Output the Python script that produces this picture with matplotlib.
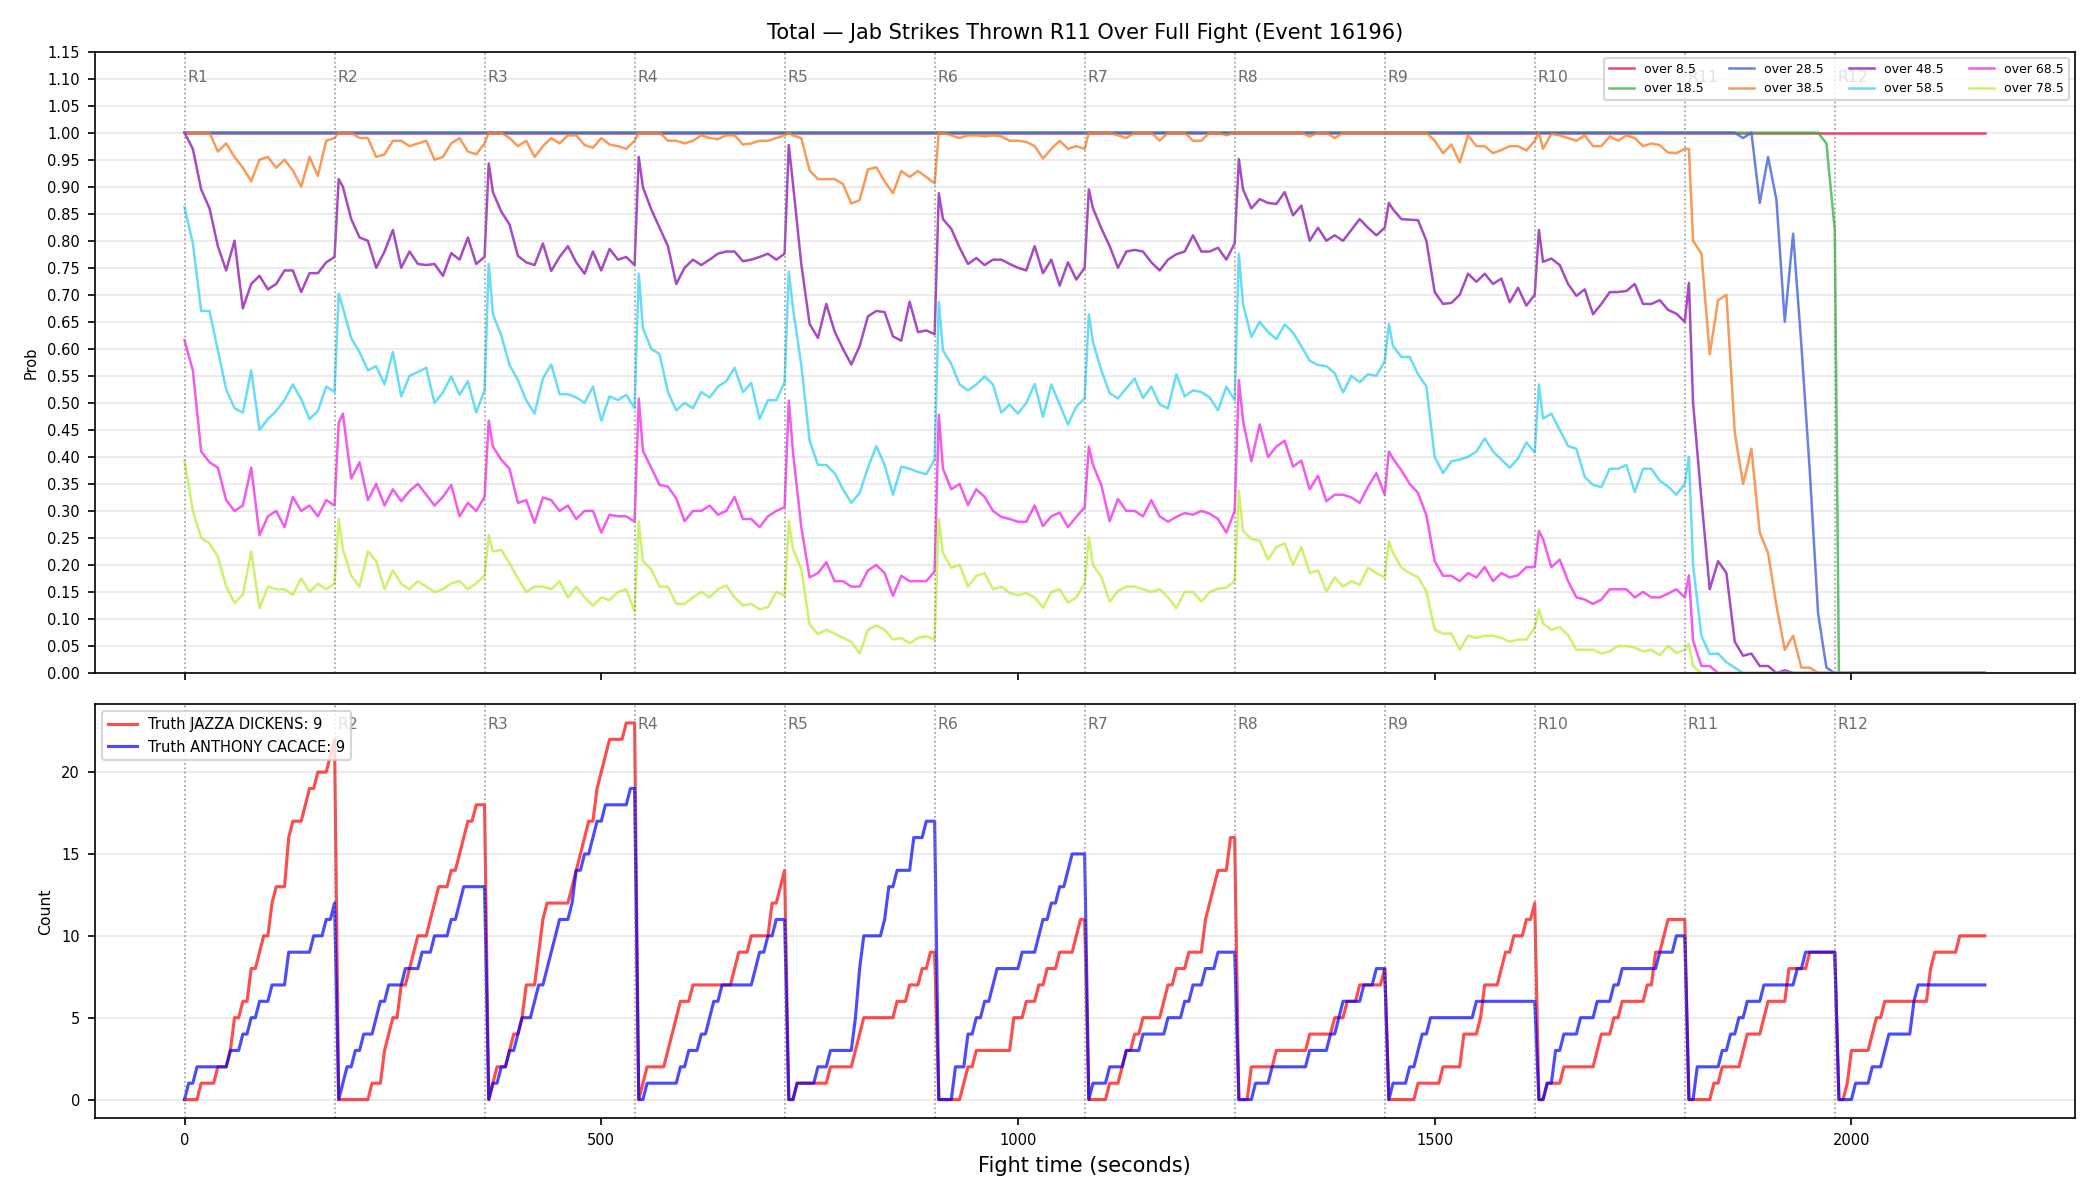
import numpy as np
import matplotlib
matplotlib.use('Agg')
import matplotlib.pyplot as plt

title = 'Total — Jab Strikes Thrown R11 Over Full Fight (Event 16196)'

round_starts = [0, 180, 360, 540, 720, 900, 1080, 1260, 1440, 1620, 1800, 1980]
round_names = ['R1', 'R2', 'R3', 'R4', 'R5', 'R6', 'R7', 'R8', 'R9', 'R10', 'R11', 'R12']

line_labels = ['over 8.5', 'over 18.5', 'over 28.5', 'over 38.5',
               'over 48.5', 'over 58.5', 'over 68.5', 'over 78.5']
line_colors = ['#e6194b', '#3cb44b', '#4363d8', '#f58231',
               '#911eb4', '#42d4f4', '#f032e6', '#bfef45']

# probabilities, one list per round, read every 10 s inside the round
over_8_5 = [[1.0] * 19] * 12

over_18_5 = [[1.0] * 19] * 10 + [
    [1.0, 1.0, 1.0, 1.0, 1.0, 1.0, 1.0, 1.0, 1.0, 1.0, 1.0, 1.0, 1.0, 1.0, 1.0, 1.0, 1.0, 0.98, 0.82],
    [0.0] * 19,
]

over_28_5 = [[1.0] * 19] * 10 + [
    [1.0, 1.0, 1.0, 1.0, 1.0, 1.0, 1.0, 0.99, 1.0, 0.87, 0.955, 0.876, 0.65, 0.813, 0.605, 0.374, 0.11, 0.01, 0.0],
    [0.0] * 19,
]

over_38_5 = [
    [1.0, 1.0, 1.0, 1.0, 0.965, 0.98, 0.955, 0.935, 0.91, 0.95, 0.955, 0.935, 0.95, 0.93, 0.90, 0.955, 0.92, 0.985, 0.99],
    [1.0, 1.0, 1.0, 0.99, 0.99, 0.955, 0.96, 0.985, 0.985, 0.975, 0.98, 0.985, 0.95, 0.955, 0.98, 0.99, 0.965, 0.96, 0.98],
    [1.0, 1.0, 1.0, 0.99, 0.975, 0.985, 0.955, 0.975, 0.99, 0.98, 0.995, 0.995, 0.977, 0.972, 0.99, 0.978, 0.975, 0.97, 0.985],
    [1.0, 1.0, 1.0, 1.0, 0.985, 0.985, 0.98, 0.985, 0.995, 0.99, 0.988, 0.995, 0.995, 0.978, 0.98, 0.985, 0.985, 0.99, 0.995],
    [1.0, 0.995, 0.99, 0.93, 0.914, 0.914, 0.914, 0.905, 0.869, 0.875, 0.932, 0.936, 0.91, 0.888, 0.929, 0.918, 0.929, 0.918, 0.906],
    [1.0, 1.0, 0.995, 0.99, 0.995, 0.995, 0.993, 0.995, 0.993, 0.985, 0.985, 0.983, 0.975, 0.952, 0.97, 0.985, 0.97, 0.975, 0.97],
    [1.0, 1.0, 1.0, 1.0, 0.995, 0.99, 1.0, 1.0, 1.0, 0.985, 1.0, 1.0, 1.0, 0.985, 0.985, 1.0, 1.0, 0.995, 1.0],
    [1.0, 1.0, 1.0, 1.0, 1.0, 1.0, 1.0, 1.0, 1.0, 0.993, 1.0, 1.0, 0.99, 1.0, 1.0, 1.0, 1.0, 1.0, 1.0],
    [1.0, 1.0, 1.0, 1.0, 1.0, 1.0, 0.985, 0.962, 0.978, 0.945, 0.995, 0.975, 0.975, 0.962, 0.968, 0.975, 0.975, 0.967, 0.985],
    [1.0, 0.97, 0.998, 0.995, 0.99, 0.985, 0.995, 0.975, 0.975, 0.993, 0.985, 0.995, 0.99, 0.975, 0.98, 0.977, 0.963, 0.962, 0.97],
    [0.97, 0.80, 0.776, 0.59, 0.69, 0.70, 0.445, 0.35, 0.415, 0.26, 0.222, 0.125, 0.043, 0.069, 0.01, 0.01, 0.0, 0.0, 0.0],
    [0.0] * 19,
]

over_48_5 = [
    [1.0, 0.97, 0.895, 0.86, 0.79, 0.745, 0.80, 0.675, 0.72, 0.735, 0.71, 0.72, 0.745, 0.745, 0.705, 0.74, 0.74, 0.76, 0.77],
    [0.914, 0.90, 0.84, 0.806, 0.80, 0.75, 0.78, 0.82, 0.75, 0.78, 0.757, 0.755, 0.757, 0.735, 0.777, 0.765, 0.806, 0.757, 0.77],
    [0.943, 0.89, 0.854, 0.83, 0.772, 0.76, 0.755, 0.795, 0.744, 0.77, 0.79, 0.76, 0.739, 0.78, 0.745, 0.785, 0.765, 0.77, 0.755],
    [0.955, 0.899, 0.858, 0.824, 0.79, 0.72, 0.75, 0.765, 0.755, 0.765, 0.776, 0.78, 0.78, 0.762, 0.765, 0.77, 0.776, 0.765, 0.776],
    [0.977, 0.906, 0.757, 0.646, 0.62, 0.683, 0.632, 0.60, 0.571, 0.605, 0.66, 0.67, 0.668, 0.623, 0.615, 0.687, 0.631, 0.634, 0.627],
    [0.888, 0.84, 0.822, 0.787, 0.757, 0.768, 0.755, 0.765, 0.765, 0.757, 0.75, 0.745, 0.79, 0.74, 0.765, 0.717, 0.76, 0.728, 0.75],
    [0.895, 0.86, 0.823, 0.79, 0.75, 0.78, 0.783, 0.78, 0.76, 0.745, 0.765, 0.775, 0.78, 0.81, 0.78, 0.78, 0.787, 0.765, 0.795],
    [0.951, 0.895, 0.86, 0.877, 0.87, 0.868, 0.89, 0.847, 0.865, 0.80, 0.824, 0.80, 0.81, 0.80, 0.82, 0.84, 0.824, 0.81, 0.824],
    [0.87, 0.858, 0.84, 0.839, 0.838, 0.80, 0.705, 0.683, 0.685, 0.70, 0.739, 0.724, 0.739, 0.72, 0.73, 0.686, 0.713, 0.68, 0.70],
    [0.82, 0.761, 0.767, 0.755, 0.72, 0.698, 0.71, 0.664, 0.683, 0.705, 0.705, 0.707, 0.72, 0.683, 0.683, 0.69, 0.672, 0.665, 0.65],
    [0.722, 0.50, 0.322, 0.155, 0.207, 0.185, 0.058, 0.032, 0.036, 0.013, 0.013, 0.0, 0.005, 0.0, 0.0, 0.0, 0.0, 0.0, 0.0],
    [0.0] * 19,
]

over_58_5 = [
    [0.862, 0.795, 0.67, 0.67, 0.597, 0.525, 0.49, 0.482, 0.56, 0.45, 0.47, 0.485, 0.505, 0.534, 0.507, 0.47, 0.485, 0.53, 0.52],
    [0.702, 0.676, 0.62, 0.594, 0.56, 0.568, 0.534, 0.594, 0.512, 0.55, 0.557, 0.565, 0.50, 0.519, 0.549, 0.515, 0.54, 0.482, 0.523],
    [0.757, 0.664, 0.625, 0.57, 0.542, 0.505, 0.48, 0.545, 0.571, 0.516, 0.516, 0.51, 0.50, 0.53, 0.467, 0.512, 0.505, 0.515, 0.49],
    [0.739, 0.638, 0.60, 0.59, 0.52, 0.486, 0.50, 0.49, 0.52, 0.51, 0.53, 0.54, 0.565, 0.52, 0.537, 0.47, 0.505, 0.505, 0.538],
    [0.743, 0.676, 0.57, 0.43, 0.385, 0.385, 0.37, 0.34, 0.315, 0.333, 0.38, 0.42, 0.385, 0.33, 0.382, 0.378, 0.372, 0.368, 0.395],
    [0.687, 0.597, 0.572, 0.534, 0.523, 0.534, 0.549, 0.534, 0.482, 0.497, 0.48, 0.50, 0.535, 0.474, 0.534, 0.497, 0.46, 0.493, 0.508],
    [0.664, 0.612, 0.56, 0.518, 0.508, 0.527, 0.545, 0.509, 0.53, 0.497, 0.49, 0.553, 0.512, 0.523, 0.52, 0.51, 0.486, 0.53, 0.505],
    [0.776, 0.683, 0.622, 0.65, 0.631, 0.618, 0.645, 0.63, 0.605, 0.578, 0.57, 0.568, 0.555, 0.519, 0.55, 0.538, 0.553, 0.55, 0.577],
    [0.646, 0.605, 0.585, 0.585, 0.553, 0.53, 0.40, 0.37, 0.392, 0.395, 0.40, 0.41, 0.434, 0.41, 0.395, 0.38, 0.397, 0.427, 0.408],
    [0.534, 0.471, 0.48, 0.45, 0.42, 0.415, 0.363, 0.348, 0.344, 0.378, 0.378, 0.385, 0.335, 0.378, 0.378, 0.356, 0.345, 0.33, 0.35],
    [0.40, 0.20, 0.069, 0.035, 0.036, 0.02, 0.01, 0.0, 0.0, 0.0, 0.0, 0.0, 0.0, 0.0, 0.0, 0.0, 0.0, 0.0, 0.0],
    [0.0] * 19,
]

over_68_5 = [
    [0.616, 0.56, 0.41, 0.39, 0.38, 0.32, 0.30, 0.31, 0.38, 0.255, 0.29, 0.30, 0.27, 0.326, 0.30, 0.31, 0.29, 0.32, 0.31],
    [0.463, 0.48, 0.36, 0.39, 0.32, 0.35, 0.31, 0.34, 0.318, 0.337, 0.35, 0.33, 0.31, 0.326, 0.348, 0.29, 0.315, 0.30, 0.326],
    [0.467, 0.419, 0.395, 0.378, 0.315, 0.32, 0.278, 0.325, 0.32, 0.30, 0.31, 0.285, 0.30, 0.30, 0.26, 0.293, 0.29, 0.29, 0.28],
    [0.508, 0.411, 0.38, 0.348, 0.345, 0.323, 0.281, 0.30, 0.30, 0.31, 0.293, 0.30, 0.326, 0.285, 0.285, 0.27, 0.29, 0.30, 0.307],
    [0.504, 0.41, 0.27, 0.177, 0.185, 0.205, 0.17, 0.17, 0.16, 0.16, 0.19, 0.20, 0.185, 0.143, 0.18, 0.17, 0.17, 0.17, 0.188],
    [0.478, 0.378, 0.34, 0.35, 0.311, 0.34, 0.326, 0.30, 0.289, 0.285, 0.28, 0.28, 0.31, 0.272, 0.29, 0.297, 0.27, 0.289, 0.307],
    [0.419, 0.385, 0.348, 0.281, 0.322, 0.30, 0.30, 0.29, 0.32, 0.29, 0.28, 0.289, 0.296, 0.293, 0.30, 0.295, 0.285, 0.26, 0.30],
    [0.542, 0.467, 0.392, 0.46, 0.40, 0.419, 0.43, 0.382, 0.393, 0.34, 0.365, 0.318, 0.33, 0.33, 0.325, 0.315, 0.345, 0.37, 0.33],
    [0.41, 0.397, 0.375, 0.35, 0.333, 0.292, 0.207, 0.18, 0.18, 0.17, 0.185, 0.177, 0.196, 0.17, 0.185, 0.177, 0.181, 0.196, 0.196],
    [0.263, 0.248, 0.196, 0.21, 0.17, 0.14, 0.136, 0.128, 0.136, 0.155, 0.155, 0.155, 0.14, 0.15, 0.14, 0.14, 0.147, 0.155, 0.14],
    [0.181, 0.06, 0.013, 0.013, 0.0, 0.0, 0.0, 0.0, 0.0, 0.0, 0.0, 0.0, 0.0, 0.0, 0.0, 0.0, 0.0, 0.0, 0.0],
    [0.0] * 19,
]

over_78_5 = [
    [0.393, 0.30, 0.25, 0.24, 0.215, 0.16, 0.13, 0.145, 0.225, 0.12, 0.16, 0.155, 0.155, 0.145, 0.175, 0.15, 0.165, 0.155, 0.166],
    [0.285, 0.229, 0.18, 0.16, 0.225, 0.207, 0.155, 0.19, 0.165, 0.155, 0.17, 0.16, 0.15, 0.155, 0.166, 0.17, 0.155, 0.166, 0.18],
    [0.255, 0.225, 0.228, 0.203, 0.175, 0.15, 0.16, 0.16, 0.155, 0.17, 0.14, 0.16, 0.14, 0.125, 0.14, 0.135, 0.15, 0.155, 0.114],
    [0.281, 0.207, 0.192, 0.16, 0.16, 0.128, 0.128, 0.14, 0.15, 0.14, 0.155, 0.162, 0.14, 0.125, 0.128, 0.118, 0.122, 0.15, 0.143],
    [0.281, 0.23, 0.192, 0.09, 0.072, 0.08, 0.073, 0.065, 0.058, 0.036, 0.08, 0.088, 0.08, 0.062, 0.065, 0.055, 0.065, 0.068, 0.062],
    [0.285, 0.222, 0.195, 0.20, 0.16, 0.18, 0.185, 0.155, 0.16, 0.148, 0.144, 0.148, 0.14, 0.121, 0.15, 0.155, 0.13, 0.14, 0.166],
    [0.251, 0.20, 0.178, 0.132, 0.152, 0.16, 0.16, 0.155, 0.15, 0.155, 0.14, 0.12, 0.15, 0.15, 0.132, 0.15, 0.156, 0.158, 0.17],
    [0.337, 0.263, 0.248, 0.245, 0.21, 0.233, 0.24, 0.20, 0.233, 0.185, 0.19, 0.151, 0.177, 0.16, 0.17, 0.163, 0.195, 0.185, 0.177],
    [0.244, 0.222, 0.195, 0.185, 0.177, 0.151, 0.08, 0.073, 0.073, 0.043, 0.069, 0.065, 0.069, 0.069, 0.065, 0.058, 0.062, 0.062, 0.084],
    [0.118, 0.092, 0.08, 0.085, 0.07, 0.043, 0.043, 0.043, 0.036, 0.04, 0.05, 0.05, 0.047, 0.04, 0.043, 0.033, 0.05, 0.037, 0.043],
    [0.054, 0.013, 0.0, 0.0, 0.0, 0.0, 0.0, 0.0, 0.0, 0.0, 0.0, 0.0, 0.0, 0.0, 0.0, 0.0, 0.0, 0.0, 0.0],
    [0.0] * 19,
]

# running jab counts every 5 s, reset each round
# (R1 holds t = 0..180, later rounds hold the 36 samples after the bell)
dickens_label = 'Truth JAZZA DICKENS: 9'
cacace_label = 'Truth ANTHONY CACACE: 9'

dickens = [
    [0, 0, 0, 0, 1, 1, 1, 1, 2, 2, 2, 3, 5, 5, 6, 6, 8, 8, 9, 10, 10, 12, 13, 13, 13, 16, 17, 17, 17, 18, 19, 19, 20, 20, 20, 21, 22],
    [0, 0, 0, 0, 0, 0, 0, 0, 1, 1, 1, 3, 4, 5, 5, 7, 7, 8, 9, 10, 10, 10, 11, 12, 13, 13, 13, 14, 14, 15, 16, 17, 17, 18, 18, 18],
    [0, 1, 2, 2, 2, 3, 4, 4, 5, 7, 7, 7, 9, 11, 12, 12, 12, 12, 12, 12, 13, 14, 15, 16, 17, 17, 19, 20, 21, 22, 22, 22, 22, 23, 23, 23],
    [0, 1, 2, 2, 2, 2, 2, 3, 4, 5, 6, 6, 6, 7, 7, 7, 7, 7, 7, 7, 7, 7, 7, 8, 9, 9, 9, 10, 10, 10, 10, 10, 12, 12, 13, 14],
    [0, 0, 1, 1, 1, 1, 1, 1, 1, 1, 2, 2, 2, 2, 2, 2, 3, 4, 5, 5, 5, 5, 5, 5, 5, 5, 6, 6, 6, 7, 7, 7, 8, 8, 9, 9],
    [0, 0, 0, 0, 0, 0, 1, 2, 2, 3, 3, 3, 3, 3, 3, 3, 3, 3, 5, 5, 5, 6, 6, 6, 7, 7, 8, 8, 8, 9, 9, 9, 9, 10, 11, 11],
    [0, 0, 0, 0, 0, 1, 1, 1, 2, 3, 3, 4, 4, 5, 5, 5, 5, 5, 6, 7, 7, 8, 8, 8, 9, 9, 9, 9, 11, 12, 13, 14, 14, 14, 16, 16],
    [0, 0, 0, 2, 2, 2, 2, 2, 2, 3, 3, 3, 3, 3, 3, 3, 3, 4, 4, 4, 4, 4, 4, 5, 5, 5, 6, 6, 6, 7, 7, 7, 7, 7, 7, 8],
    [0, 0, 0, 0, 0, 0, 0, 1, 1, 1, 1, 1, 1, 2, 2, 2, 2, 2, 4, 4, 4, 4, 5, 7, 7, 7, 7, 8, 9, 9, 10, 10, 10, 11, 11, 12],
    [0, 0, 1, 1, 1, 1, 2, 2, 2, 2, 2, 2, 2, 2, 3, 4, 4, 4, 5, 5, 6, 6, 6, 6, 6, 6, 7, 7, 9, 9, 10, 11, 11, 11, 11, 11],
    [0, 0, 0, 0, 0, 0, 1, 1, 2, 2, 2, 2, 2, 3, 4, 4, 4, 4, 5, 6, 6, 6, 6, 6, 8, 8, 8, 8, 8, 9, 9, 9, 9, 9, 9, 9],
    [0, 0, 1, 3, 3, 3, 3, 3, 4, 5, 5, 6, 6, 6, 6, 6, 6, 6, 6, 6, 6, 6, 8, 9, 9, 9, 9, 9, 9, 10, 10, 10, 10, 10, 10, 10],
]

cacace = [
    [0, 1, 1, 2, 2, 2, 2, 2, 2, 2, 2, 3, 3, 3, 4, 4, 5, 5, 6, 6, 6, 7, 7, 7, 7, 9, 9, 9, 9, 9, 9, 10, 10, 10, 11, 11, 12],
    [0, 1, 2, 2, 3, 3, 4, 4, 4, 5, 6, 6, 7, 7, 7, 7, 8, 8, 8, 8, 9, 9, 9, 10, 10, 10, 10, 11, 11, 12, 13, 13, 13, 13, 13, 13],
    [0, 1, 1, 2, 2, 3, 3, 4, 5, 5, 5, 6, 7, 7, 8, 9, 10, 11, 11, 11, 12, 14, 14, 15, 15, 16, 17, 17, 18, 18, 18, 18, 18, 18, 19, 19],
    [0, 0, 1, 1, 1, 1, 1, 1, 1, 1, 2, 2, 3, 3, 3, 4, 4, 5, 6, 6, 7, 7, 7, 7, 7, 7, 7, 7, 8, 9, 9, 10, 10, 11, 11, 11],
    [0, 0, 1, 1, 1, 1, 1, 2, 2, 2, 3, 3, 3, 3, 3, 3, 5, 8, 10, 10, 10, 10, 10, 11, 13, 13, 14, 14, 14, 14, 16, 16, 16, 17, 17, 17],
    [0, 0, 0, 0, 2, 2, 2, 4, 4, 5, 5, 6, 6, 7, 8, 8, 8, 8, 8, 8, 9, 9, 9, 9, 10, 11, 11, 12, 12, 13, 13, 14, 15, 15, 15, 15],
    [0, 1, 1, 1, 1, 2, 2, 2, 2, 3, 3, 3, 3, 4, 4, 4, 4, 4, 4, 5, 5, 5, 5, 6, 6, 7, 7, 7, 8, 8, 8, 9, 9, 9, 9, 9],
    [0, 0, 0, 0, 1, 1, 1, 1, 2, 2, 2, 2, 2, 2, 2, 2, 2, 3, 3, 3, 3, 3, 4, 4, 5, 6, 6, 6, 6, 6, 7, 7, 7, 8, 8, 8],
    [0, 1, 1, 1, 1, 2, 2, 3, 4, 4, 5, 5, 5, 5, 5, 5, 5, 5, 5, 5, 5, 6, 6, 6, 6, 6, 6, 6, 6, 6, 6, 6, 6, 6, 6, 6],
    [0, 0, 1, 1, 3, 3, 4, 4, 4, 4, 5, 5, 5, 5, 6, 6, 6, 6, 7, 7, 8, 8, 8, 8, 8, 8, 8, 8, 8, 9, 9, 9, 9, 10, 10, 10],
    [0, 0, 2, 2, 2, 2, 2, 2, 3, 3, 4, 4, 5, 5, 6, 6, 6, 6, 7, 7, 7, 7, 7, 7, 7, 7, 8, 8, 9, 9, 9, 9, 9, 9, 9, 9],
    [0, 0, 0, 0, 1, 1, 1, 1, 2, 2, 2, 3, 4, 4, 4, 4, 4, 4, 6, 7, 7, 7, 7, 7, 7, 7, 7, 7, 7, 7, 7, 7, 7, 7, 7, 7],
]


def round_times(i):
    offs = list(range(0, 181, 10))
    if i > 0:
        offs[0] = 5  # first reading of a new round comes just after the bell
    return [round_starts[i] + o for o in offs]


t_prob = np.concatenate([round_times(i) for i in range(len(round_starts))])
t_count = np.arange(0, 2161, 5)


def flat(rounds):
    return np.concatenate([np.asarray(r, dtype=float) for r in rounds])


prob_series = [over_8_5, over_18_5, over_28_5, over_38_5,
               over_48_5, over_58_5, over_68_5, over_78_5]

fig, (ax1, ax2) = plt.subplots(2, 1, figsize=(14, 8), dpi=150, sharex=True,
                               gridspec_kw={'height_ratios': [3, 2]})
plt.subplots_adjust(left=0.045, right=0.988, top=0.957, bottom=0.068, hspace=0.06)

for series, lab, col in zip(prob_series, line_labels, line_colors):
    ax1.plot(t_prob, flat(series), color=col, alpha=0.8, linewidth=1.2, label=lab)

ax2.plot(t_count, flat(dickens), color='red', alpha=0.7, linewidth=1.5, label=dickens_label)
ax2.plot(t_count, flat(cacace), color='blue', alpha=0.7, linewidth=1.5, label=cacace_label)

for ax in (ax1, ax2):
    for x, name in zip(round_starts, round_names):
        ax.axvline(x, color='gray', linestyle=':', linewidth=0.8, alpha=0.8)
        ax.text(x + 3, 0.97, name, transform=ax.get_xaxis_transform(),
                ha='left', va='top', fontsize=7.5, color='#555555', alpha=0.85)
    ax.grid(axis='y', alpha=0.3)
    ax.tick_params(labelsize=7)

ax1.set_ylim(0, 1.15)
ax1.set_yticks(np.arange(0, 1.151, 0.05))
ax1.set_ylabel('Prob', fontsize=7)
ax1.set_title(title, fontsize=10)
ax1.legend(loc='upper right', ncol=4, fontsize=6)

ax2.set_ylabel('Count', fontsize=7.5)
ax2.set_xlabel('Fight time (seconds)', fontsize=10)
ax2.legend(loc='upper left', fontsize=7)

plt.savefig('out.png')
